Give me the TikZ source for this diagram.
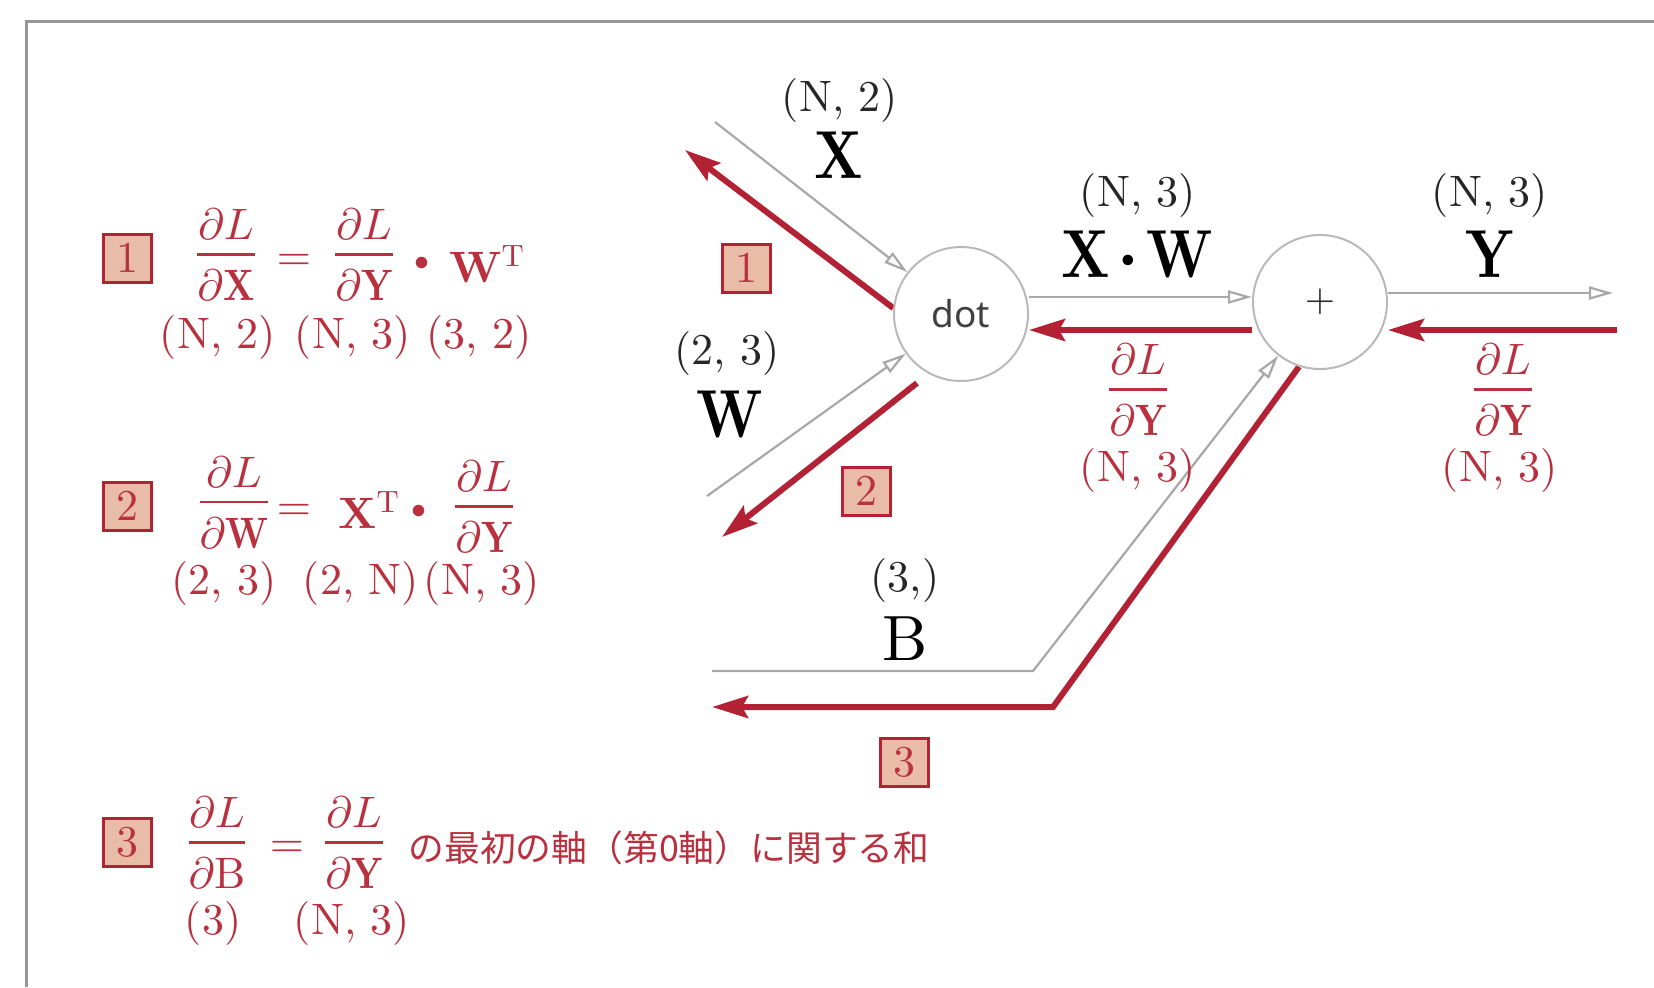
\RequirePackage{fix-cm}
\documentclass[tikz,border=0pt]{standalone}
\usepackage{amsmath}
\usepackage{graphicx}
\usepackage{fontspec}
\setmainfont{lmroman10-regular}[Extension=.otf, BoldFont=lmroman10-bold, ItalicFont=lmroman10-italic, BoldItalicFont=lmroman10-bolditalic]
\newfontfamily\jpfont{Noto Sans CJK JP}
\newfontfamily\nsans{Noto Sans}
\DeclareFontShape{OML}{cmm}{m}{it}{<->cmmi10}{\skewchar\font'177}
\DeclareFontShape{OT1}{cmr}{m}{n}{<->cmr10}{}
\usetikzlibrary{arrows.meta,backgrounds}
\definecolor{dred}{RGB}{178,34,52}
\definecolor{tred}{RGB}{185,48,62}
\definecolor{boxfill}{RGB}{232,188,166}
\definecolor{lgray}{RGB}{168,168,168}
\definecolor{cgray}{RGB}{185,185,185}
\definecolor{fgray}{RGB}{150,150,150}
\newcommand{\bfl}[1]{\scalebox{0.82}[1]{$\mathbf{#1}$}}
\newcommand{\pfrac}[2]{\vbox{\offinterlineskip\halign{\hfil##\hfil\cr$#1$\cr\noalign{\kern.3em\hrule height .055em\kern.33em}$#2$\cr}}}
\tikzset{
 dims/.style={font=\fontsize{22}{26}\selectfont, inner sep=0pt, text=black!85},
 rdims/.style={dims, text=tred},
 biglab/.style={font=\fontsize{34}{40}\selectfont, inner sep=0pt, anchor=base},
 fml/.style={font=\fontsize{22}{26}\selectfont, text=tred, inner sep=0pt},
 numbox/.style={draw=dred, line width=1.5pt, fill=boxfill, text=tred, minimum size=24pt, inner sep=0pt, font=\fontsize{22}{26}\selectfont},
 opnode/.style={circle, draw=cgray, fill=white, line width=1pt, minimum size=67pt, inner sep=0pt},
 fwd/.style={draw=lgray, line width=1.1pt, -{Triangle[open, fill=white, length=12pt, width=6.5pt]}},
 bwd/.style={draw=dred, line width=3pt, -{Stealth[length=18pt, width=11pt, inset=3pt]}},
}
\begin{document}
\begin{tikzpicture}[x=0.5pt,y=-0.5pt]
\useasboundingbox (0,0) rectangle (1654,987);
\draw[fgray, line width=1.5pt] (26,987) -- (26,21.5) -- (1654,21.5);

% ---- graph ----
\node[opnode] (dot) at (961,314) {\nsans\fontsize{18.5}{22}\selectfont\color{black!75}dot};
\node[opnode] (plus) at (1320,302) {\fontsize{19.5}{22}\selectfont\color{black!85}$+$};

\node[dims] (xdim) at (840,100) {(N, 2)};
\node[biglab] (xlab) at (839,178) {$\bfl{X}$};
\node[dims] (wdim) at (727,353) {(2, 3)};
\node[biglab] (wlab) at (730,437) {$\bfl{W}$};
\node[dims] (xwdim) at (1138,195) {(N, 3)};
\node[biglab] (xwlab) at (1137,277) {$\bfl{X}\mkern-2mu\boldsymbol{\cdot}\mkern-2mu\bfl{W}$};
\node[dims] (ydim) at (1490,195) {(N, 3)};
\node[biglab] (ylab) at (1490,277) {$\bfl{Y}$};
\node[dims] (bdim) at (905,580) {(3,)};
\node[biglab, font=\fontsize{32}{38}\selectfont] (blab) at (905,660) {B};

\node[fml] (gmid) at (1138,390) {\pfrac{\partial L}{\partial \bfl{Y}}};
\node[rdims] (gmiddim) at (1138,470) {(N, 3)};
\node[fml] (gright) at (1503,390) {\pfrac{\partial L}{\partial \bfl{Y}}};
\node[rdims] (grightdim) at (1500,470) {(N, 3)};

\node[numbox] (b1) at (746,268) {1};
\node[numbox] (b2) at (866,491) {2};
\node[numbox] (b3) at (904,762) {3};

\coordinate (xs) at (715,122);
\coordinate (ws) at (707,496);
\coordinate (r1e) at (685,150);
\coordinate (r2s) at (917,383);
\coordinate (r2e) at (722,537);
\coordinate (yl) at (0,297);
\coordinate (yr) at (0,330);
\coordinate (yo) at (0,293);
\coordinate (ye) at (1613,293);
\coordinate (rys) at (1617,330);
\coordinate (bs) at (712,671);
\coordinate (bc) at (1033,671);
\coordinate (r3c) at (1053,707);
\coordinate (r3e) at (712,707);

\begin{scope}[on background layer]
\draw[fwd] (xs) -- (dot);
\draw[fwd] (ws) -- (dot);
\draw[bwd] (dot.175) -- (r1e);
\draw[bwd] (r2s) -- (r2e);
\draw[fwd] (dot.east |- yl) -- (plus.west |- yl);
\draw[bwd] (plus.west |- yr) -- (dot.east |- yr);
\draw[fwd] (plus.east |- yo) -- (ye);
\draw[bwd] (rys) -- (plus.east |- yr);
\draw[fwd] (bs) -- (bc) -- (plus);
\draw[bwd] (plus.252) -- (r3c) -- (r3e);
\end{scope}

% ---- formula 1 ----
\node[numbox] (fb1) at (127,258) {1};
\node[fml] (f1a) at (226,255) {\pfrac{\partial L}{\partial \bfl{X}}};
\node[fml] (f1eq) at (294,262) {$=$};
\node[fml] (f1b) at (364,255) {\pfrac{\partial L}{\partial \bfl{Y}}};
\node[fml, font=\fontsize{15}{18}\selectfont] (f1dot) at (422,264) {$\bullet$};
\node[fml, anchor=base west] (f1c) at (449,282) {$\mathbf{W}^{\mathrm{T}}$};
\node[rdims] (f1d1) at (218,337) {(N, 2)};
\node[rdims] (f1d2) at (353,337) {(N, 3)};
\node[rdims] (f1d3) at (479,337) {(3, 2)};

% ---- formula 2 ----
\node[numbox] (fb2) at (127,506) {2};
\node[fml] (f2a) at (234,503) {\pfrac{\partial L}{\partial \bfl{W}}};
\node[fml] (f2eq) at (294,512) {$=$};
\node[fml, anchor=base west] (f2b) at (338,528) {$\mathbf{X}^{\mathrm{T}}$};
\node[fml, font=\fontsize{15}{18}\selectfont] (f2dot) at (419,512) {$\bullet$};
\node[fml] (f2c) at (484,507) {\pfrac{\partial L}{\partial \bfl{Y}}};
\node[rdims] (f2d1) at (224,583) {(2, 3)};
\node[rdims] (f2d2) at (361,583) {(2, N)};
\node[rdims] (f2d3) at (482,583) {(N, 3)};

% ---- formula 3 ----
\node[numbox] (fb3) at (127,842) {3};
\node[fml] (f3a) at (217,843) {\pfrac{\partial L}{\partial \hbox{B}}};
\node[fml] (f3eq) at (287,849) {$=$};
\node[fml] (f3b) at (354,843) {\pfrac{\partial L}{\partial \bfl{Y}}};
\node[inner sep=0pt, anchor=west, text=tred, font={\jpfont\fontsize{17.9}{21}\selectfont}] (f3t) at (408,848) {の最初の軸（第0軸）に関する和};
\node[rdims] (f3d1) at (213,923) {(3)};
\node[rdims] (f3d2) at (352,923) {(N, 3)};
\end{tikzpicture}
\end{document}
